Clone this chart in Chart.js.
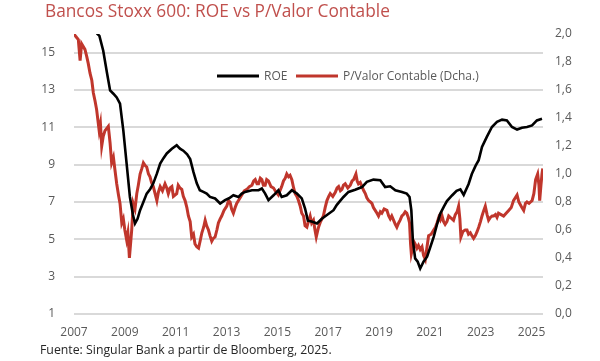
<!DOCTYPE html>
<html>
<head>
<meta charset="utf-8">
<script src="https://cdn.jsdelivr.net/npm/chart.js@4.4.0/dist/chart.umd.min.js"></script>
<style>
  body { margin: 0; background: #fff; }
  #wrap { position: relative; width: 600px; height: 361px; }
  #myChart { position: absolute; left: 0; top: 0; }
  #title { position: absolute; left: 45px; top: -1px; font: 17.3px "Open Sans", sans-serif; color: #c0504d; white-space: nowrap; }
  #source { position: absolute; left: 40px; top: 341px; font: 12.3px "Open Sans", sans-serif; color: #262626; white-space: nowrap; }
</style>
</head>
<body>
<div id="wrap">
  <canvas id="myChart" width="600" height="361"></canvas>
  <div id="title">Bancos Stoxx 600: ROE vs P/Valor Contable</div>
  <div id="source">Fuente: Singular Bank a partir de Bloomberg, 2025.</div>
</div>
<script>
// tick labels
const yearTicks = [2007, 2009, 2011, 2013, 2015, 2017, 2019, 2021, 2023, 2025];
const roeTicks = [1, 3, 5, 7, 9, 11, 13, 15];
const pbvTicks = [0, 0.2, 0.4, 0.6, 0.8, 1.0, 1.2, 1.4, 1.6, 1.8, 2.0];

// ROE (left axis)
const roeYears = [2007.76, 2007.92, 2008.0, 2008.15, 2008.3, 2008.42, 2008.55, 2008.68, 2008.81, 2008.94,
  2009.07, 2009.2, 2009.32, 2009.4, 2009.5, 2009.6, 2009.73, 2009.86, 2010.0, 2010.12,
  2010.26, 2010.39, 2010.52, 2010.65, 2010.85, 2011.04, 2011.17, 2011.3, 2011.45, 2011.57,
  2011.7, 2011.83, 2011.95, 2012.09, 2012.22, 2012.35, 2012.55, 2012.75, 2012.94, 2013.1,
  2013.27, 2013.47, 2013.6, 2013.73, 2014.0, 2014.26, 2014.39, 2014.52, 2014.65, 2014.85,
  2015.04, 2015.17, 2015.37, 2015.57, 2015.77, 2015.96, 2016.09, 2016.2, 2016.35, 2016.56,
  2016.75, 2016.95, 2017.21, 2017.34, 2017.6, 2017.8, 2018.06, 2018.33, 2018.52, 2018.78,
  2019.05, 2019.24, 2019.44, 2019.64, 2019.9, 2020.09, 2020.2, 2020.27, 2020.33, 2020.42,
  2020.52, 2020.62, 2020.75, 2020.89, 2021.02, 2021.15, 2021.28, 2021.41, 2021.55, 2021.67,
  2021.87, 2022.05, 2022.2, 2022.33, 2022.52, 2022.65, 2022.8, 2022.92, 2023.05, 2023.24,
  2023.44, 2023.64, 2023.84, 2024.03, 2024.23, 2024.43, 2024.62, 2024.82, 2025.02, 2025.21, 2025.41];
const roeValues = [16.3, 16.0, 15.9, 15.1, 13.9, 12.98, 12.8, 12.6, 12.27, 10.84,
  9.06, 7.27, 6.3, 5.85, 6.1, 6.56, 7.0, 7.45, 7.7, 8.0,
  8.52, 9.06, 9.35, 9.6, 9.85, 10.04, 9.86, 9.75, 9.55, 9.3,
  8.6, 8.0, 7.63, 7.54, 7.45, 7.27, 7.19, 6.92, 7.1, 7.2,
  7.36, 7.27, 7.45, 7.54, 7.63, 7.63, 7.72, 7.45, 7.1, 7.36,
  7.63, 7.27, 7.36, 7.63, 7.45, 7.19, 6.65, 6.0, 5.95, 5.85,
  6.1, 6.3, 6.56, 6.85, 7.27, 7.54, 7.66, 7.8, 8.08, 8.2,
  8.17, 7.8, 7.84, 7.63, 7.54, 7.45, 7.27, 6.56, 4.96, 3.98,
  3.8, 3.44, 3.8, 4.07, 4.6, 5.13, 5.8, 6.38, 6.75, 7.05,
  7.35, 7.6, 7.68, 7.38, 7.95, 8.5, 8.95, 9.24, 9.95, 10.49,
  11.02, 11.29, 11.41, 11.37, 11.02, 10.88, 10.98, 11.02, 11.1, 11.37, 11.46];

// P/Valor Contable (right axis)
const pbvYears = [2007.0, 2007.08, 2007.17, 2007.24, 2007.3, 2007.43, 2007.5, 2007.56, 2007.63, 2007.7,
  2007.76, 2007.83, 2007.89, 2007.99, 2008.04, 2008.09, 2008.15, 2008.22, 2008.35, 2008.42,
  2008.48, 2008.55, 2008.61, 2008.68, 2008.75, 2008.81, 2008.88, 2008.94, 2009.0, 2009.07,
  2009.12, 2009.18, 2009.27, 2009.33, 2009.4, 2009.47, 2009.53, 2009.6, 2009.67, 2009.73,
  2009.8, 2009.86, 2009.93, 2009.99, 2010.05, 2010.12, 2010.19, 2010.26, 2010.32, 2010.39,
  2010.48, 2010.58, 2010.65, 2010.71, 2010.78, 2010.85, 2010.91, 2011.04, 2011.1, 2011.17,
  2011.24, 2011.3, 2011.37, 2011.44, 2011.5, 2011.57, 2011.63, 2011.7, 2011.76, 2011.83,
  2011.9, 2011.96, 2012.03, 2012.1, 2012.16, 2012.22, 2012.29, 2012.35, 2012.42, 2012.48,
  2012.55, 2012.62, 2012.68, 2012.75, 2012.81, 2012.9, 2013.01, 2013.08, 2013.14, 2013.2,
  2013.27, 2013.34, 2013.4, 2013.5, 2013.6, 2013.7, 2013.8, 2013.9, 2014.0, 2014.07,
  2014.13, 2014.2, 2014.26, 2014.33, 2014.39, 2014.45, 2014.52, 2014.58, 2014.65, 2014.75,
  2014.85, 2014.95, 2015.04, 2015.1, 2015.17, 2015.24, 2015.31, 2015.37, 2015.44, 2015.5,
  2015.57, 2015.64, 2015.7, 2015.77, 2015.83, 2015.9, 2015.96, 2016.03, 2016.09, 2016.16,
  2016.22, 2016.29, 2016.35, 2016.42, 2016.48, 2016.53, 2016.58, 2016.62, 2016.7, 2016.81,
  2016.88, 2016.95, 2017.02, 2017.08, 2017.18, 2017.28, 2017.35, 2017.41, 2017.48, 2017.54,
  2017.6, 2017.67, 2017.77, 2017.87, 2017.94, 2018.0, 2018.09, 2018.14, 2018.19, 2018.26,
  2018.33, 2018.4, 2018.46, 2018.52, 2018.59, 2018.66, 2018.72, 2018.78, 2018.85, 2018.92,
  2018.98, 2019.05, 2019.11, 2019.2, 2019.31, 2019.38, 2019.44, 2019.5, 2019.57, 2019.64,
  2019.7, 2019.77, 2019.83, 2019.9, 2019.96, 2020.03, 2020.09, 2020.15, 2020.2, 2020.24,
  2020.27, 2020.32, 2020.36, 2020.42, 2020.49, 2020.55, 2020.62, 2020.69, 2020.75, 2020.82,
  2020.88, 2020.95, 2021.05, 2021.15, 2021.22, 2021.28, 2021.35, 2021.41, 2021.48, 2021.54,
  2021.6, 2021.67, 2021.74, 2021.8, 2021.87, 2021.93, 2022.0, 2022.07, 2022.13, 2022.18,
  2022.22, 2022.3, 2022.39, 2022.46, 2022.52, 2022.59, 2022.65, 2022.72, 2022.79, 2022.86,
  2022.92, 2022.99, 2023.05, 2023.12, 2023.18, 2023.25, 2023.31, 2023.38, 2023.45, 2023.51,
  2023.58, 2023.64, 2023.7, 2023.8, 2023.9, 2024.0, 2024.1, 2024.2, 2024.29, 2024.36,
  2024.43, 2024.5, 2024.56, 2024.62, 2024.69, 2024.76, 2024.82, 2024.9, 2024.96, 2025.02,
  2025.09, 2025.16, 2025.24, 2025.29, 2025.32, 2025.37, 2025.41, 2025.44];
const pbvValues = [2.0, 1.98, 1.96, 1.81, 1.93, 1.89, 1.84, 1.79, 1.72, 1.67,
  1.58, 1.52, 1.46, 1.31, 1.36, 1.2, 1.27, 1.31, 1.34, 1.22,
  1.08, 1.12, 1.03, 0.93, 0.85, 0.79, 0.65, 0.68, 0.6, 0.53,
  0.58, 0.4, 0.6, 0.79, 0.75, 0.86, 0.92, 1.0, 1.04, 1.08,
  1.06, 1.05, 1.0, 0.98, 0.94, 0.91, 0.86, 0.81, 0.87, 0.91,
  0.88, 0.93, 0.9, 0.86, 0.9, 0.91, 0.84, 0.86, 0.92, 0.9,
  0.89, 0.84, 0.81, 0.76, 0.7, 0.66, 0.55, 0.57, 0.5, 0.48,
  0.47, 0.52, 0.58, 0.62, 0.67, 0.63, 0.6, 0.56, 0.52, 0.54,
  0.55, 0.6, 0.65, 0.68, 0.7, 0.74, 0.77, 0.81, 0.8, 0.75,
  0.72, 0.76, 0.79, 0.82, 0.85, 0.88, 0.89, 0.91, 0.92, 0.95,
  0.96, 0.93, 0.93, 0.97, 0.96, 0.92, 0.92, 0.96, 0.95, 0.91,
  0.9, 0.87, 0.85, 0.88, 0.91, 0.95, 0.97, 1.0, 0.98, 0.99,
  0.96, 0.9, 0.86, 0.84, 0.81, 0.77, 0.72, 0.7, 0.63, 0.62,
  0.66, 0.7, 0.65, 0.67, 0.6, 0.55, 0.59, 0.62, 0.66, 0.7,
  0.76, 0.81, 0.84, 0.86, 0.84, 0.87, 0.9, 0.91, 0.88, 0.89,
  0.92, 0.93, 0.9, 0.92, 0.95, 0.96, 1.0, 0.95, 0.93, 0.94,
  0.91, 0.88, 0.86, 0.83, 0.81, 0.8, 0.79, 0.76, 0.74, 0.72,
  0.7, 0.73, 0.72, 0.75, 0.74, 0.7, 0.68, 0.7, 0.67, 0.64,
  0.62, 0.65, 0.67, 0.7, 0.71, 0.73, 0.72, 0.69, 0.65, 0.5,
  0.43, 0.47, 0.52, 0.5, 0.47, 0.49, 0.46, 0.48, 0.42, 0.39,
  0.47, 0.56, 0.57, 0.6, 0.62, 0.65, 0.69, 0.67, 0.7, 0.66,
  0.64, 0.66, 0.7, 0.69, 0.68, 0.67, 0.71, 0.73, 0.77, 0.68,
  0.55, 0.59, 0.6, 0.6, 0.57, 0.58, 0.56, 0.54, 0.56, 0.59,
  0.62, 0.66, 0.7, 0.74, 0.77, 0.71, 0.67, 0.69, 0.7, 0.7,
  0.71, 0.69, 0.72, 0.71, 0.7, 0.72, 0.74, 0.76, 0.81, 0.83,
  0.85, 0.8, 0.78, 0.76, 0.74, 0.79, 0.8, 0.79, 0.8, 0.81,
  0.86, 0.96, 1.0, 0.92, 0.81, 0.92, 1.0, 1.04];

const roeColor = '#000000';
const pbvColor = '#c0362c';
const labelColor = '#595959';
const tickFont = { family: 'Open Sans', size: 12 };

function toPoints(xs, ys) {
  return xs.map((x, i) => ({ x: x, y: ys[i] }));
}

// legend drawn inside the plot area, like the original
const innerLegend = {
  id: 'innerLegend',
  afterDatasetsDraw(chart) {
    const ctx = chart.ctx;
    const y = 76;
    const items = [
      { x: 217, text: 'ROE', color: roeColor },
      { x: 296, text: 'P/Valor Contable (Dcha.)', color: pbvColor }
    ];
    ctx.save();
    ctx.font = '12px "Open Sans"';
    ctx.textBaseline = 'middle';
    for (let item of items) {
      ctx.strokeStyle = item.color;
      ctx.lineWidth = 3;
      ctx.beginPath();
      ctx.moveTo(item.x, y);
      ctx.lineTo(item.x + 42, y);
      ctx.stroke();
      ctx.fillStyle = labelColor;
      ctx.fillText(item.text, item.x + 47, y + 1);
    }
    ctx.restore();
  }
};

const ctx = document.getElementById('myChart');

new Chart(ctx, {
  type: 'line',
  data: {
    datasets: [{
      label: 'ROE',
      data: toPoints(roeYears, roeValues),
      borderColor: roeColor,
      borderWidth: 2.6,
      pointRadius: 0,
      tension: 0,
      yAxisID: 'y'
    }, {
      label: 'P/Valor Contable (Dcha.)',
      data: toPoints(pbvYears, pbvValues),
      borderColor: pbvColor,
      borderWidth: 3,
      pointRadius: 0,
      tension: 0,
      yAxisID: 'y1'
    }]
  },
  options: {
    responsive: false,
    animation: false,
    layout: { padding: { top: 34, left: 0, right: 0, bottom: 0 } },
    plugins: {
      legend: { display: false },
      tooltip: { enabled: false }
    },
    scales: {
      x: {
        type: 'linear',
        min: 2007,
        max: 2025.45,
        afterFit: (scale) => { scale.height = 47; },
        afterBuildTicks: (scale) => { scale.ticks = yearTicks.map(v => ({ value: v })); },
        grid: { display: false },
        border: { display: false },
        ticks: {
          color: labelColor,
          font: tickFont,
          padding: 3,
          maxRotation: 0,
          autoSkip: false,
          callback: (v) => String(v)
        }
      },
      y: {
        position: 'left',
        min: 1,
        max: 16,
        afterFit: (scale) => { scale.width = 74; },
        afterBuildTicks: (scale) => { scale.ticks = roeTicks.map(v => ({ value: v })); },
        grid: { color: '#d9d9d9', lineWidth: 2, drawTicks: false },
        border: { display: false },
        ticks: { color: labelColor, font: tickFont, padding: 19 }
      },
      y1: {
        position: 'right',
        min: 0,
        max: 2.0,
        afterFit: (scale) => { scale.width = 57; },
        afterBuildTicks: (scale) => { scale.ticks = pbvTicks.map(v => ({ value: v })); },
        grid: { display: false, drawTicks: false },
        border: { display: false },
        ticks: {
          color: labelColor,
          font: tickFont,
          padding: 12,
          callback: (v) => v.toFixed(1).replace('.', ',')
        }
      }
    }
  },
  plugins: [innerLegend]
});
</script>
</body>
</html>
